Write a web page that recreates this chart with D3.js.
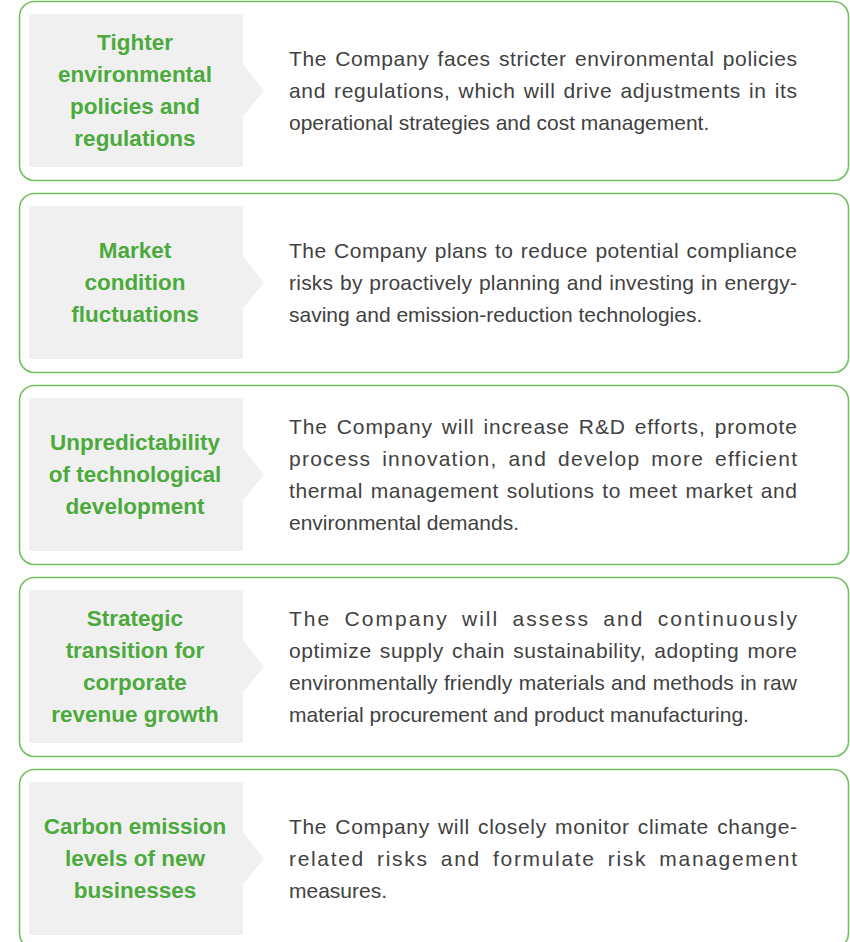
<!DOCTYPE html>
<html>
<head>
<meta charset="utf-8">
<script src="https://cdn.jsdelivr.net/npm/d3@7"></script>
<style>
  html, body { margin: 0; padding: 0; background: #fff; }
  #chart { width: 850px; height: 942px; overflow: hidden; }
</style>
</head>
<body>
<div id="chart"></div>
<script>
// risk titles, one entry per line as broken in the original
const titles = [
    ["Tighter", "environmental", "policies and", "regulations"],
    ["Market", "condition", "fluctuations"],
    ["Unpredictability", "of technological", "development"],
    ["Strategic", "transition for", "corporate", "revenue growth"],
    ["Carbon emission", "levels of new", "businesses"]
];

// response text, line breaks as in the original
const responses = [
    ["The Company faces stricter environmental policies",
     "and regulations, which will drive adjustments in its",
     "operational strategies and cost management."],
    ["The Company plans to reduce potential compliance",
     "risks by proactively planning and investing in energy-",
     "saving and emission-reduction technologies."],
    ["The Company will increase R&D efforts, promote",
     "process innovation, and develop more efficient",
     "thermal management solutions to meet market and",
     "environmental demands."],
    ["The Company will assess and continuously",
     "optimize supply chain sustainability, adopting more",
     "environmentally friendly materials and methods in raw",
     "material procurement and product manufacturing."],
    ["The Company will closely monitor climate change-",
     "related risks and formulate risk management",
     "measures."]
];

const width = 850, height = 942;
const panelH = 179, boxPad = 13, lineH = 32;
const green = "#4caa3d", border = "#72c060", boxFill = "#f0f0f0", textCol = "#414141";
const font = "Liberation Sans, Arial, sans-serif";

const svg = d3.select("#chart").append("svg")
    .attr("width", width)
    .attr("height", height);

// panel index -> top edge
const y = d3.scaleLinear().domain([0, 1]).range([1, 193]);
const textX = 289, textRight = 797;

const panels = svg.selectAll("g.panel")
    .data(titles.map((t, i) => ({ title: t, body: responses[i], i })))
    .join("g")
    .attr("class", "panel")
    .attr("transform", d => `translate(0, ${y(d.i)})`);

panels.append("rect")
    .attr("x", 19.5).attr("y", 0.5)
    .attr("width", 829).attr("height", panelH)
    .attr("rx", 15).attr("ry", 15)
    .attr("fill", "#fff")
    .attr("stroke", border)
    .attr("stroke-width", 1.6);

const boxX = 29, boxW = 214, boxH = panelH - 2 * boxPad;
const cy = boxPad + boxH / 2;

panels.append("rect")
    .attr("x", boxX).attr("y", boxPad)
    .attr("width", boxW).attr("height", boxH)
    .attr("fill", boxFill);

// little pointer on the right of the grey box
panels.append("path")
    .attr("d", `M${boxX + boxW},${cy - 26} L${boxX + boxW + 21},${cy} L${boxX + boxW},${cy + 26} Z`)
    .attr("fill", boxFill);

panels.append("text")
    .attr("text-anchor", "middle")
    .attr("font-family", font)
    .attr("font-weight", "bold")
    .attr("font-size", 22.5)
    .attr("fill", green)
    .selectAll("tspan")
    .data(d => d.title.map((s, k) => ({ s, k, n: d.title.length })))
    .join("tspan")
    .attr("x", 135)
    .attr("y", d => cy + (d.k - (d.n - 1) / 2) * lineH)
    .attr("dy", "0.35em")
    .text(d => d.s);

panels.append("g")
    .selectAll("text")
    .data(d => d.body.map((s, k) => ({ s, k, n: d.body.length })))
    .join("text")
    .attr("x", textX)
    .attr("y", d => cy + (d.k - (d.n - 1) / 2) * lineH)
    .attr("dy", "0.35em")
    .attr("font-family", font)
    .attr("font-size", 21)
    .attr("fill", textCol)
    .text(d => d.s)
    .each(function (d) {
        // justify every line except the last: spread the slack mostly over letters
        if (d.k < d.n - 1) {
            const natural = this.getComputedTextLength();
            const extra = (textRight - textX) - natural;
            const gaps = d.s.split(" ").length - 1;
            const ls = extra * 0.75 / (d.s.length - 1);
            const ws = extra * 0.25 / Math.max(gaps, 1);
            d3.select(this)
                .attr("letter-spacing", ls)
                .attr("word-spacing", ws);
        }
    });
</script>
</body>
</html>
